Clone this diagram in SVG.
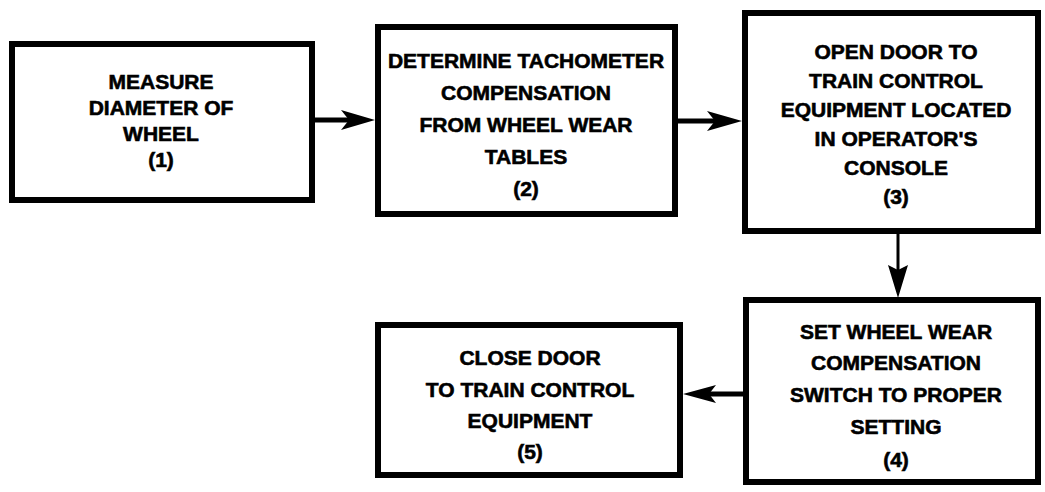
<svg xmlns="http://www.w3.org/2000/svg" width="1045" height="492" viewBox="0 0 1045 492">
<style>
.box{fill:#fff;stroke:#000;stroke-width:6}
.t{font-family:"Liberation Sans",Arial,sans-serif;font-weight:bold;font-size:21px;fill:#000;stroke:#000;stroke-width:0.6;text-anchor:middle}
.ln{stroke:#000;fill:none}
.ah{fill:#000}
</style>
<rect width="1045" height="492" fill="#fff"/>
<g id="connectors">
<line class="ln" x1="315" y1="120" x2="352" y2="120" stroke-width="5"/>
<path class="ah" d="M375,120 L341,110 L349,120 L341,130 Z"/>
<line class="ln" x1="678" y1="121" x2="715" y2="121" stroke-width="5"/>
<path class="ah" d="M742,121 L707,111 L715,121 L707,131 Z"/>
<line class="ln" x1="898" y1="234" x2="898" y2="272" stroke-width="3"/>
<path class="ah" d="M898,298 L888,265 L898,270 L908,265 Z"/>
<line class="ln" x1="743" y1="394" x2="708" y2="394" stroke-width="5"/>
<path class="ah" d="M683,394 L716,385 L709,394 L716,403 Z"/>
</g>
<g id="node1">
<rect class="box" x="12" y="44" width="300" height="156"/>
<text class="t" x="161" y="89">MEASURE</text>
<text class="t" x="161" y="115">DIAMETER OF</text>
<text class="t" x="161" y="141">WHEEL</text>
<text class="t" x="161" y="167">(1)</text>
</g>
<g id="node2">
<rect class="box" x="378" y="27" width="297" height="187"/>
<text class="t" x="526" y="68">DETERMINE TACHOMETER</text>
<text class="t" x="526" y="100">COMPENSATION</text>
<text class="t" x="526" y="132">FROM WHEEL WEAR</text>
<text class="t" x="526" y="164">TABLES</text>
<text class="t" x="526" y="196">(2)</text>
</g>
<g id="node3">
<rect class="box" x="745" y="13" width="293" height="218"/>
<text class="t" x="896" y="59">OPEN DOOR TO</text>
<text class="t" x="896" y="88">TRAIN CONTROL</text>
<text class="t" x="896" y="117">EQUIPMENT LOCATED</text>
<text class="t" x="896" y="146">IN OPERATOR'S</text>
<text class="t" x="896" y="175">CONSOLE</text>
<text class="t" x="896" y="204">(3)</text>
</g>
<g id="node4">
<rect class="box" x="746" y="300" width="292" height="182"/>
<text class="t" x="896" y="339">SET WHEEL WEAR</text>
<text class="t" x="896" y="370">COMPENSATION</text>
<text class="t" x="896" y="402">SWITCH TO PROPER</text>
<text class="t" x="896" y="434">SETTING</text>
<text class="t" x="896" y="467">(4)</text>
</g>
<g id="node5">
<rect class="box" x="378" y="325" width="302" height="150"/>
<text class="t" x="530" y="365">CLOSE DOOR</text>
<text class="t" x="530" y="397">TO TRAIN CONTROL</text>
<text class="t" x="530" y="428">EQUIPMENT</text>
<text class="t" x="530" y="459">(5)</text>
</g>
</svg>
